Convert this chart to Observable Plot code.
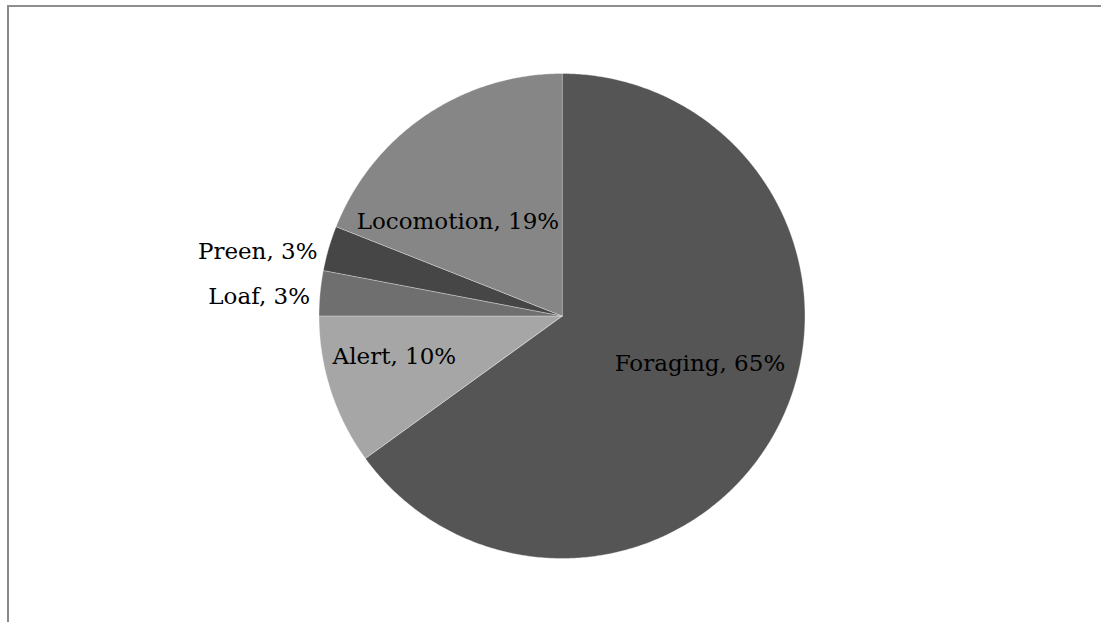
<!DOCTYPE html>
<html>
<head>
<meta charset="utf-8">
<script src="https://cdn.jsdelivr.net/npm/d3@7"></script>
<script src="https://cdn.jsdelivr.net/npm/@observablehq/plot@0.6"></script>
<style>
  html, body { margin: 0; padding: 0; background: #fff; }
  #wrap { position: relative; width: 1101px; height: 622px; overflow: hidden; }
  #frame { position: absolute; left: 7px; top: 5px; right: 0; bottom: -10px;
           border-left: 2px solid #898989; border-top: 2px solid #8e8e8e; pointer-events: none; }
  #chart { position: absolute; left: 0; top: 0; }
</style>
</head>
<body>
<div id="wrap"><div id="chart"></div><div id="frame"></div></div>
<script>
// Data
const categories = ["Foraging", "Alert", "Loaf", "Preen", "Locomotion"];
const values = [65, 10, 3, 3, 19];
const labels = ["Foraging, 65%", "Alert, 10%", "Loaf, 3%", "Preen, 3%", "Locomotion, 19%"];

// Styles / layout (not data)
const colors = ["#555555", "#a6a6a6", "#6f6f6f", "#464646", "#868686"];
// per-label layout: radial fraction, angle shift (deg), text anchor
const labelLayout = [
  {r: 0.60, shift: -8.1, anchor: "middle"},
  {r: 0.71, shift: 4.3, anchor: "middle"},
  {r: 1.04, shift: -1.1, anchor: "end"},
  {r: 1.04, shift: -1.5, anchor: "end"},
  {r: 0.58, shift: -13.4, anchor: "middle"}
];

const total = d3.sum(values);
const toRad = Math.PI / 180;
let acc = 0;
const slices = categories.map((c, i) => {
  const a0 = acc / total * 360;
  acc += values[i];
  const a1 = acc / total * 360;
  return {name: c, a0, a1, mid: (a0 + a1) / 2, color: colors[i], label: labels[i], layout: labelLayout[i]};
});

function polar(deg, r) { return {x: r * Math.sin(deg * toRad), y: r * Math.cos(deg * toRad)}; }

function slicePoints(s) {
  const pts = [{x: 0, y: 0}];
  const n = Math.max(2, Math.ceil((s.a1 - s.a0) / 0.5));
  for (let k = 0; k <= n; k++) pts.push(polar(s.a0 + (s.a1 - s.a0) * k / n, 1));
  return pts;
}

const sliceMarks = slices.map(s => Plot.line(slicePoints(s), {
  x: "x", y: "y", fill: s.color, stroke: "#ffffff", strokeOpacity: 0.35, strokeWidth: 1,
  curve: "linear-closed"
}));

const labelData = slices.map(s => {
  const p = polar(s.mid + s.layout.shift, s.layout.r);
  return {x: p.x, y: p.y, text: s.label, anchor: s.layout.anchor};
});

const textMarks = ["middle", "end"].map(anchor => Plot.text(labelData.filter(d => d.anchor === anchor), {
  x: "x", y: "y", text: "text", textAnchor: anchor, fill: "#000",
  fontSize: 23, fontFamily: "DejaVu Serif", stroke: null
}));

const chart = Plot.plot({
  width: 1101, height: 622,
  marginTop: 0, marginRight: 0, marginBottom: 0, marginLeft: 0,
  x: {domain: [-1, 1], range: [318.5, 804.5], axis: null},
  y: {domain: [-1, 1], range: [558, 73], axis: null},
  style: {background: "transparent", fontFamily: "DejaVu Serif"},
  marks: [...sliceMarks, ...textMarks]
});
document.getElementById("chart").appendChild(chart);
</script>
</body>
</html>
